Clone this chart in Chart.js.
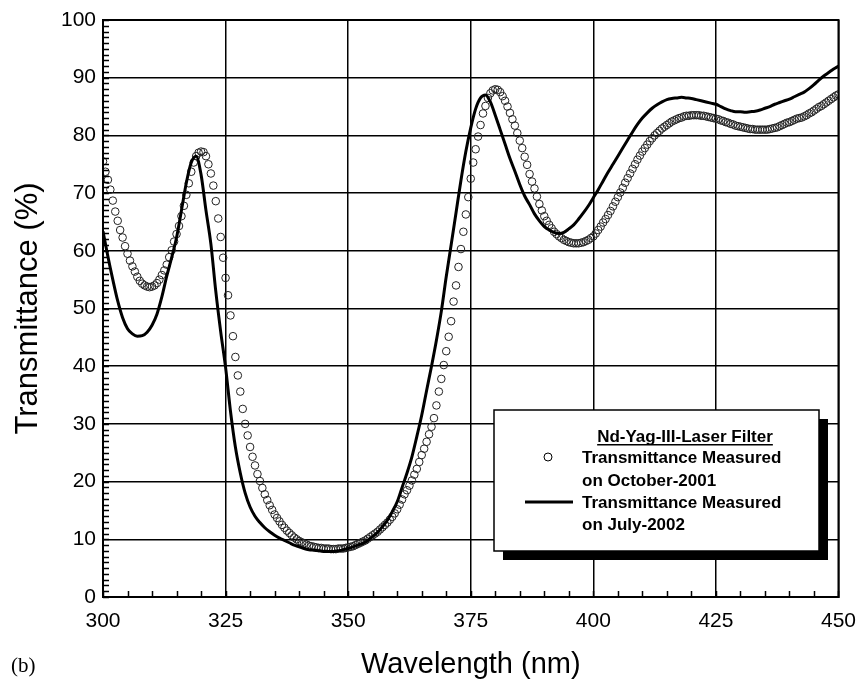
<!DOCTYPE html>
<html>
<head>
<meta charset="utf-8">
<script src="https://cdn.jsdelivr.net/npm/chart.js@4"></script>
<style>
  html, body { margin: 0; padding: 0; background: #fff; }
</style>
</head>
<body>
<canvas id="myChart" width="868" height="683"></canvas>
<script>
	// 파장 축 (nm)
	const xMin = 300, xMax = 450, xStep = 25, xMinorStep = 5;
	const yMin = 0, yMax = 100, yStep = 10, yMinorStep = 1;

	// October-2001 측정값 : 300nm 부터 0.5nm 간격
	const octStart = 300, octStep = 0.5;
	const octValues = [
		75.5,73.7,72.3,70.6,68.7,66.8,65.2,63.6,62.3,60.8,59.5,58.3,57.3,56.4,55.5,54.8,54.3,54.0,53.8,53.7,
		53.8,54.0,54.4,55.0,55.8,56.6,57.6,58.9,60.1,61.6,62.9,64.3,66.0,67.8,69.7,71.7,73.7,75.3,76.4,77.0,
		77.2,77.1,76.4,75.0,73.4,71.3,68.6,65.6,62.4,58.8,55.3,52.3,48.8,45.2,41.6,38.4,35.6,32.6,30.0,28.0,
		26.0,24.3,22.8,21.3,20.1,18.9,17.8,16.8,15.9,15.1,14.3,13.7,13.1,12.5,12.0,11.5,11.1,10.7,10.3,10.0,
		9.7,9.5,9.3,9.1,8.9,8.8,8.7,8.6,8.5,8.5,8.4,8.4,8.4,8.3,8.3,8.3,8.4,8.4,8.4,8.5,
		8.6,8.7,8.8,9.0,9.2,9.4,9.6,9.8,10.1,10.4,10.7,11.0,11.3,11.7,12.1,12.5,12.9,13.4,13.9,14.5,
		15.2,16.0,16.9,17.8,18.5,19.3,20.2,21.2,22.2,23.4,24.6,25.7,26.9,28.2,29.5,31.0,33.2,35.6,37.8,40.2,
		42.6,45.1,47.8,51.2,54.0,57.2,60.3,63.3,66.3,69.3,72.5,75.3,77.6,79.8,81.8,83.8,85.1,86.5,87.3,87.8,
		88.0,87.9,87.5,86.8,86.0,85.0,83.9,82.8,81.7,80.4,79.1,77.8,76.3,74.9,73.3,72.0,70.8,69.4,68.1,67.0,
		66.0,65.2,64.5,63.9,63.3,62.9,62.5,62.2,61.9,61.7,61.5,61.4,61.3,61.3,61.3,61.4,61.5,61.7,61.9,62.2,
		62.5,63.0,63.6,64.2,64.9,65.5,66.2,66.9,67.7,68.5,69.3,70.1,70.9,71.8,72.6,73.4,74.2,75.0,75.8,76.5,
		77.2,77.8,78.4,79.0,79.5,80.0,80.4,80.8,81.2,81.5,81.8,82.1,82.4,82.6,82.8,83.0,83.1,83.3,83.4,83.4,
		83.5,83.5,83.5,83.5,83.4,83.4,83.3,83.2,83.1,83.0,82.9,82.8,82.6,82.5,82.3,82.2,82.0,81.9,81.7,81.6,
		81.5,81.4,81.3,81.2,81.1,81.1,81.0,81.0,81.0,81.0,81.0,81.0,81.1,81.2,81.3,81.4,81.6,81.8,82.0,82.2,
		82.3,82.5,82.7,82.9,83.0,83.1,83.3,83.5,83.8,84.0,84.3,84.6,84.9,85.1,85.4,85.7,86.0,86.3,86.6,86.9,
		87.1
	];

	// July-2002 측정값 : 300nm 부터 1nm 간격
	const julStart = 300, julStep = 1;
	const julValues = [
		63.4,59.0,55.0,51.3,48.4,46.5,45.6,45.2,45.3,45.9,
		47.1,49.0,52.0,55.6,58.8,62.3,67.0,71.8,75.3,76.4,
		73.2,67.0,61.2,53.0,46.0,39.8,32.2,26.0,21.5,18.0,
		15.6,14.0,12.9,12.0,11.3,10.7,10.2,9.8,9.4,9.0,
		8.7,8.4,8.2,8.1,8.0,7.9,7.9,7.9,8.0,8.2,
		8.4,8.7,9.0,9.3,9.8,10.5,11.2,12.2,13.3,14.8,
		16.5,19.0,21.5,24.3,27.8,31.5,35.8,40.0,44.5,49.5,
		55.5,61.0,66.6,72.2,77.2,81.3,84.6,86.5,87.0,85.8,
		83.5,81.0,78.5,76.0,73.8,71.5,69.5,68.0,66.4,65.2,
		64.2,63.6,63.2,63.0,63.2,63.8,64.5,65.5,66.6,67.8,
		69.2,70.6,72.1,73.6,75.0,76.4,77.8,79.2,80.6,81.9,
		83.0,83.9,84.7,85.3,85.8,86.2,86.4,86.5,86.6,86.5,
		86.4,86.2,86.0,85.8,85.6,85.4,85.0,84.6,84.3,84.1,
		84.1,84.0,84.1,84.2,84.4,84.7,85.0,85.4,85.7,86.0,
		86.3,86.7,87.1,87.5,88.1,88.8,89.6,90.3,90.9,91.5,
		92.0
	];

	const legendTitle = "Nd-Yag-III-Laser Filter";
	const legendOct = ["Transmittance Measured", "on October-2001"];
	const legendJul = ["Transmittance Measured", "on July-2002"];
	const xTitle = "Wavelength (nm)";
	const yTitle = "Transmittance (%)";
	const panelLabel = "(b)";

	// {x,y} 배열 만들기
	const octData = octValues.map((v, i) => ({ x: octStart + i * octStep, y: v }));
	const julData = julValues.map((v, i) => ({ x: julStart + i * julStep, y: v }));

	Chart.defaults.font.family = "'Liberation Sans', Arial, sans-serif";
	Chart.defaults.color = '#000';

	// 테두리 + 안쪽 보조 눈금
	const frameTicks = {
		id: 'frameTicks',
		afterDatasetsDraw(chart) {
			const { ctx, chartArea: a, scales } = chart;
			ctx.save();
			ctx.strokeStyle = '#000';
			ctx.lineWidth = 1.5;
			ctx.beginPath();
			for (let v = yMin; v <= yMax; v += yMinorStep) {
				const py = Math.round(scales.y.getPixelForValue(v)) + 0.5;
				ctx.moveTo(a.left, py);
				ctx.lineTo(a.left + 6, py);
			}
			for (let v = xMin; v <= xMax; v += xMinorStep) {
				const px = Math.round(scales.x.getPixelForValue(v)) + 0.5;
				ctx.moveTo(px, a.bottom);
				ctx.lineTo(px, a.bottom - 6);
			}
			ctx.stroke();
			ctx.lineWidth = 2;
			ctx.strokeRect(a.left, a.top, a.right - a.left, a.bottom - a.top);
			ctx.restore();
		}
	};

	// 범례 박스 (그림자 포함)
	const boxLegend = {
		id: 'boxLegend',
		afterDraw(chart) {
			const ctx = chart.ctx;
			ctx.save();
			ctx.fillStyle = '#000';
			ctx.fillRect(503, 419, 325, 141);
			ctx.fillStyle = '#fff';
			ctx.fillRect(494, 410, 325, 141);
			ctx.strokeStyle = '#000';
			ctx.lineWidth = 1.5;
			ctx.strokeRect(494, 410, 325, 141);

			ctx.fillStyle = '#000';
			ctx.font = "bold 17px 'Liberation Sans', Arial, sans-serif";
			ctx.textBaseline = 'alphabetic';
			ctx.textAlign = 'center';
			ctx.fillText(legendTitle, 685, 442);
			const tw = ctx.measureText(legendTitle).width;
			ctx.fillRect(685 - tw / 2, 444, tw, 1.5);

			ctx.textAlign = 'left';
			ctx.fillText(legendOct[0], 582, 463);
			ctx.fillText(legendOct[1], 582, 486);
			ctx.fillText(legendJul[0], 582, 508);
			ctx.fillText(legendJul[1], 582, 530);

			ctx.lineWidth = 1;
			ctx.beginPath();
			ctx.arc(548, 457, 4, 0, Math.PI * 2);
			ctx.stroke();

			ctx.lineWidth = 3;
			ctx.beginPath();
			ctx.moveTo(525, 502);
			ctx.lineTo(573, 502);
			ctx.stroke();

			ctx.font = "21px 'Liberation Serif', 'Times New Roman', serif";
			ctx.textBaseline = 'middle';
			ctx.fillText(panelLabel, 11, 666);
			ctx.restore();
		}
	};

	const ctx = document.querySelector('#myChart');
	const myChart = new Chart(ctx, {
		type: 'scatter',
		data: {
			datasets: [
				{
					label: legendJul.join(' '),
					data: julData,
					showLine: true,
					borderColor: '#000',
					borderWidth: 3,
					pointRadius: 0,
					cubicInterpolationMode: 'monotone',
					fill: false
				},
				{
					label: legendOct.join(' '),
					data: octData,
					pointStyle: 'circle',
					pointRadius: 3.8,
					pointBorderWidth: 1,
					borderColor: '#222',
					backgroundColor: 'rgba(255,255,255,0)'
				}
			]
		},
		options: {
			responsive: false,
			animation: false,
			devicePixelRatio: 1,
			layout: { padding: { top: 20, right: 20, left: 0, bottom: 0 } },
			plugins: {
				legend: { display: false },
				tooltip: { enabled: false }
			},
			scales: {
				x: {
					type: 'linear',
					min: xMin, max: xMax,
					afterFit: (s) => { s.height = 86; },
					ticks: { stepSize: xStep, padding: 12, font: { size: 21 }, maxRotation: 0 },
					grid: { color: '#000', lineWidth: 1.5, drawTicks: false },
					border: { color: '#000', width: 2 },
					title: { display: true, text: xTitle, font: { size: 29 }, padding: { top: 0, bottom: 1 } }
				},
				y: {
					min: yMin, max: yMax,
					afterFit: (s) => { s.width = 103; },
					ticks: { stepSize: yStep, padding: 7, font: { size: 21 } },
					grid: { color: '#000', lineWidth: 1.5, drawTicks: false },
					border: { color: '#000', width: 2 },
					title: { display: true, text: yTitle, font: { size: 31 }, padding: { top: 10, bottom: 0 } }
				}
			}
		},
		plugins: [frameTicks, boxLegend]
	});
</script>
</body>
</html>
